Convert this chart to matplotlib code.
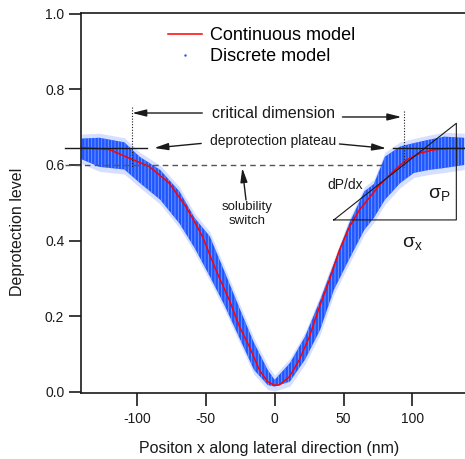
import numpy as np
import matplotlib
matplotlib.use('Agg')
import matplotlib.pyplot as plt
from matplotlib.lines import Line2D

plt.rcParams['font.family'] = ['Liberation Sans', 'DejaVu Sans']
plt.rcParams['mathtext.fontset'] = 'custom'
plt.rcParams['mathtext.rm'] = 'Liberation Sans'
plt.rcParams['mathtext.it'] = 'Liberation Sans'
plt.rcParams['mathtext.default'] = 'regular'
plt.rcParams['axes.unicode_minus'] = False
plt.rcParams['hatch.linewidth'] = 0.6
plt.rcParams['hatch.color'] = '#7d9cff'

# modelo continuo
cont_x = [-140, -120, -105.5, -91, -76.5, -64.4, -55.9, -52.3, -42.6, -32.9, -25.6, -18.4,
          -11.1, -5.1, 0, 3.4, 10.7, 17.9, 25.2, 32.5, 39.7, 47, 54.3, 61.5, 68.8, 76.1,
          85.7, 95.5, 105.2, 114.9, 127, 137.5]
cont_y = [0.646, 0.641, 0.618, 0.596, 0.552, 0.49, 0.435, 0.41, 0.322, 0.243, 0.173, 0.12,
          0.058, 0.027, 0.0175, 0.0185, 0.04, 0.085, 0.146, 0.225, 0.296, 0.375, 0.437, 0.481,
          0.514, 0.547, 0.582, 0.613, 0.631, 0.640, 0.644, 0.644]

# modelo discreto: rango vertical de la nube de puntos
disc_x = [-140, -127, -109, -98, -83, -69, -58, -47, -36, -25, -15, -5, 0, 11, 22, 33, 43,
          54, 65, 72, 80, 91, 101, 112, 123, 137.5]
disc_lo = [0.615, 0.595, 0.588, 0.553, 0.508, 0.445, 0.38, 0.305, 0.226, 0.138, 0.058, 0.018,
           0.014, 0.027, 0.085, 0.164, 0.27, 0.35, 0.428, 0.46, 0.508, 0.552, 0.579, 0.587,
           0.592, 0.60]
disc_hi = [0.67, 0.672, 0.66, 0.622, 0.587, 0.53, 0.46, 0.411, 0.315, 0.217, 0.13, 0.058,
           0.032, 0.076, 0.146, 0.243, 0.34, 0.445, 0.53, 0.55, 0.622, 0.649, 0.658, 0.667,
           0.675, 0.672]
spread = 0.012

blue = '#1f57ff'
ink = '#1a1a1a'

fig = plt.figure(figsize=(4.65, 4.59), dpi=100)
ax = fig.add_axes([81 / 465, 1 - 393 / 459, 383.6 / 465, 380 / 459])

lo = np.array(disc_lo)
hi = np.array(disc_hi)
ax.fill_between(disc_x, lo - spread, hi + spread, color='#b5c6ff', alpha=0.55, lw=0)
ax.fill_between(disc_x, lo, hi, facecolor=blue, hatch='|||||', lw=0)
ax.plot(cont_x, cont_y, color='#ff0000', lw=1.1)

ax.set_xlim(-140.5, 137.8)
ax.set_ylim(-0.003, 1.002)
ax.set_xticks([-100, -50, 0, 50, 100])
ax.set_yticks([0.0, 0.2, 0.4, 0.6, 0.8, 1.0])
ax.set_yticklabels(['%.1f' % v for v in [0.0, 0.2, 0.4, 0.6, 0.8, 1.0]])
ax.tick_params(direction='out', length=9, width=1.2, color=ink, labelsize=10, labelcolor=ink)
ax.tick_params(axis='x', pad=4.5)
ax.tick_params(axis='y', pad=3)
for s in ['left', 'bottom', 'top']:
    ax.spines[s].set_linewidth(1.2)
    ax.spines[s].set_color(ink)
ax.spines['right'].set_visible(False)

ax.set_xlabel('Positon x along lateral direction (nm)', fontsize=11.5, color=ink)
ax.set_ylabel('Deprotection level', fontsize=11.5, color=ink)
ax.xaxis.set_label_coords(0.491, -0.127)
ax.yaxis.set_label_coords(-0.146, 0.424)

# leyenda
handles = [Line2D([], [], color='#ff0000', lw=1.1),
           Line2D([], [], color=blue, marker='.', markersize=1.5, ls='none')]
fig.legend(handles, ['Continuous model', 'Discrete model'], loc='upper left',
           bbox_to_anchor=(168 / 465, 1 - 27.5 / 459), frameon=False, fontsize=13,
           handlelength=1.9, handletextpad=0.45, labelspacing=0.2, borderpad=0,
           borderaxespad=0)

arr = dict(arrowstyle='-|>,head_length=0.6,head_width=0.15', mutation_scale=14,
           color=ink, lw=1.0, shrinkA=0, shrinkB=0)

# critical dimension
ax.text(-45.3, 0.7375, 'critical dimension', fontsize=11.5, ha='left', va='center', color=ink)
ax.annotate('', xy=(-103.4, 0.7375), xytext=(-52.5, 0.7375), arrowprops=arr)
ax.annotate('', xy=(92.0, 0.727), xytext=(49.2, 0.727), arrowprops=arr)
ax.plot([-103.4, -103.4], [0.753, 0.595], color=ink, lw=0.8, ls=(0, (1, 1.5)))
ax.plot([93.7, 93.7], [0.743, 0.595], color=ink, lw=0.8, ls=(0, (1, 1.5)))

# deprotection plateau
ax.text(-46.7, 0.6635, 'deprotection plateau', fontsize=10, ha='left', va='center', color=ink)
ax.annotate('', xy=(-87.4, 0.645), xytext=(-53.3, 0.657), arrowprops=arr)
ax.annotate('', xy=(80.9, 0.644), xytext=(47.0, 0.6556), arrowprops=arr)
ax.plot([-152, -92.5], [0.6458, 0.6458], color=ink, lw=1.0, clip_on=False)
ax.plot([85.7, 140], [0.645, 0.645], color=ink, lw=1.0, clip_on=False)

# solubility switch
ax.plot([-152, 78.2], [0.6, 0.6], color='#555555', lw=1.0, ls=(0, (4, 3)), clip_on=False)
ax.annotate('', xy=(-23.5, 0.592), xytext=(-20.8, 0.5075), arrowprops=arr)
ax.text(-20.2, 0.4705, 'solubility\nswitch', fontsize=9.5, ha='center', va='center',
        linespacing=1.15, color=ink)

# triangulo de pendiente
ax.plot([42.9, 131.8, 131.8, 42.9], [0.4547, 0.7103, 0.4547, 0.4547], color=ink, lw=0.8)
ax.text(38.3, 0.547, 'dP/dx', fontsize=10, ha='left', va='center', color=ink)
ax.text(119.6, 0.5207, r'$\sigma_P$', fontsize=14, ha='center', va='center', color=ink)
ax.text(100.0, 0.3925, r'$\sigma_x$', fontsize=14, ha='center', va='center', color=ink)

fig.savefig('out.png', dpi=100)
